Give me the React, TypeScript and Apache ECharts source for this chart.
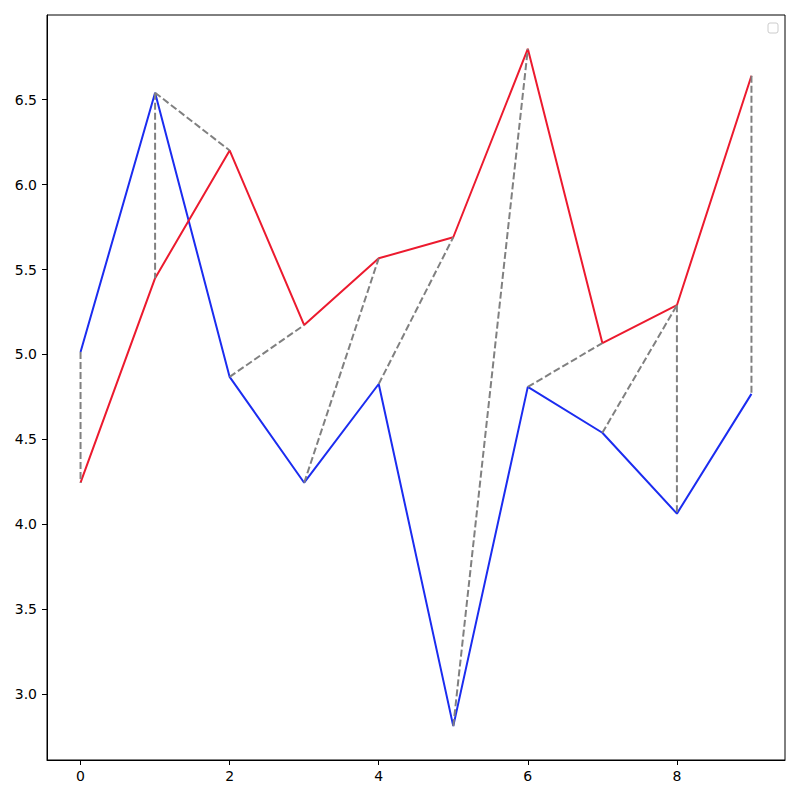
import React, { useEffect, useRef } from "react";
import * as echarts from "echarts";

const xValues = [0, 1, 2, 3, 4, 5, 6, 7, 8, 9];
const blueValues = [5.014, 6.541, 4.868, 4.245, 4.826, 2.812, 4.809, 4.539, 4.063, 4.768];
const redValues = [4.245, 5.449, 6.201, 5.173, 5.566, 5.69, 6.799, 5.067, 5.29, 6.641];
// dashed connectors: [fromSeries, fromIndex, toSeries, toIndex]
const connectors: [string, number, string, number][] = [
  ["b", 0, "r", 0],
  ["b", 1, "r", 1],
  ["b", 1, "r", 2],
  ["b", 2, "r", 3],
  ["b", 3, "r", 4],
  ["b", 4, "r", 5],
  ["b", 5, "r", 6],
  ["b", 6, "r", 7],
  ["b", 7, "r", 8],
  ["r", 8, "b", 8],
  ["r", 9, "b", 9],
];
const xTicks = [0, 2, 4, 6, 8];
const yTicks = [3.0, 3.5, 4.0, 4.5, 5.0, 5.5, 6.0, 6.5];

export default function App() {
  const ref = useRef<HTMLDivElement>(null);
  useEffect(() => {
    if (!ref.current) return;
    const chart = echarts.init(ref.current, null, { renderer: "svg" });
    const pick = (s: string, i: number) => [xValues[i], s === "b" ? blueValues[i] : redValues[i]];
    const dashData: any[] = [];
    connectors.forEach(([s1, i1, s2, i2], k) => {
      if (k > 0) dashData.push([null, null]);
      dashData.push(pick(s1, i1));
      dashData.push(pick(s2, i2));
    });
    const all = blueValues.concat(redValues);
    const lo = Math.min(...all);
    const hi = Math.max(...all);
    const pad = (hi - lo) * 0.05;
    const font = "DejaVu Sans";
    chart.setOption({
      animation: false,
      backgroundColor: "#fff",
      grid: {
        left: 47,
        right: 15,
        top: 15,
        bottom: 40,
        show: true,
        borderColor: "#000",
        borderWidth: 1,
        backgroundColor: "transparent",
      },
      xAxis: {
        type: "value",
        min: -0.45,
        max: 9.45,
        splitLine: { show: false },
        axisLine: { show: true, onZero: false, lineStyle: { color: "#000", width: 1 } },
        axisTick: { show: true, length: 5, lineStyle: { color: "#000" }, customValues: xTicks },
        axisLabel: {
          customValues: xTicks,
          color: "#000",
          fontFamily: font,
          fontSize: 14,
          margin: 9,
          formatter: (v: number) => String(v),
        },
      },
      yAxis: {
        type: "value",
        min: lo - pad,
        max: hi + pad,
        splitLine: { show: false },
        axisLine: { show: true, onZero: false, lineStyle: { color: "#000", width: 1 } },
        axisTick: { show: true, length: 5, lineStyle: { color: "#000" }, customValues: yTicks },
        axisLabel: {
          customValues: yTicks,
          color: "#000",
          fontFamily: font,
          fontSize: 14,
          margin: 10,
          formatter: (v: number) => v.toFixed(1),
        },
      },
      series: [
        {
          type: "line",
          data: xValues.map((x, i) => [x, blueValues[i]]),
          showSymbol: false,
          lineStyle: { color: "#1b2cf0", width: 2 },
          z: 2,
        },
        {
          type: "line",
          data: xValues.map((x, i) => [x, redValues[i]]),
          showSymbol: false,
          lineStyle: { color: "#ec1a2e", width: 2 },
          z: 3,
        },
        {
          type: "line",
          data: dashData,
          showSymbol: false,
          connectNulls: false,
          lineStyle: { color: "#808080", width: 2, type: [7, 3] },
          z: 4,
        },
      ],
      graphic: [
        {
          type: "rect",
          shape: { x: 768, y: 23, width: 10, height: 10, r: 2 },
          style: { fill: "#fff", stroke: "#cccccc", lineWidth: 1 },
          z: 10,
        },
      ],
    });
    return () => chart.dispose();
  }, []);
  return (
    <div
      ref={ref}
      style={{ position: "absolute", left: 0, top: 0, width: 800, height: 800 }}
    />
  );
}
